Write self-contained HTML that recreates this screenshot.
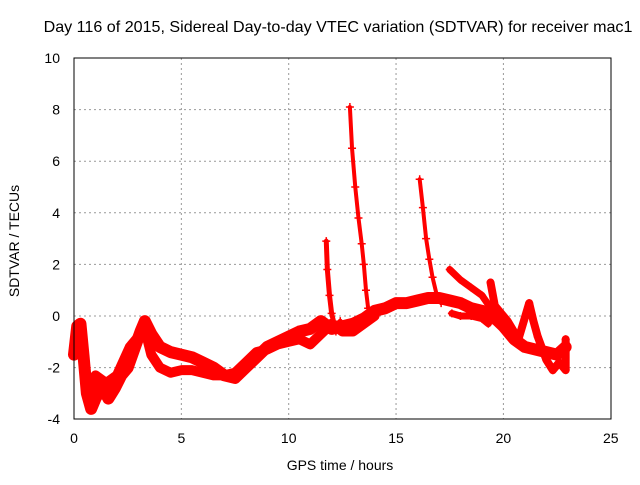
<!DOCTYPE html>
<html><head><meta charset="utf-8"><style>
body{margin:0;background:#fff}
svg text{font-family:"Liberation Sans",sans-serif;font-size:14px;fill:#000}
</style></head><body>
<svg width="640" height="480">
<text x="338" y="32" text-anchor="middle" style="font-size:16.1px">Day 116 of 2015, Sidereal Day-to-day VTEC variation (SDTVAR) for receiver mac1</text>
<g id="grid"></g><g id="ticks"></g><g id="data"></g>
<rect x="74" y="58" width="537" height="361" fill="none" stroke="#000" stroke-width="1"/>
<text x="340" y="470" text-anchor="middle">GPS time / hours</text>
<text transform="translate(19,241) rotate(-90)" text-anchor="middle">SDTVAR / TECUs</text>
</svg>
<script>
const xTicks=[0,5,10,15,20,25];
const yTicks=[-4,-2,0,2,4,6,8,10];
const mainBand=[[0,-1.5],[0.15,-0.4],[0.3,-0.3],[0.45,-1.6],[0.6,-3],[0.8,-3.6],[1.0,-3.2],[1.3,-2.7],[1.6,-3.2],[1.9,-2.8],[2.2,-2.3],[2.5,-2.0],[2.8,-1.3],[3.1,-0.6],[3.3,-0.2],[3.6,-0.7],[4.0,-1.2],[4.5,-1.4],[5.0,-1.5],[5.5,-1.6],[6.0,-1.8],[6.5,-2.0],[7.0,-2.3],[7.5,-2.4],[8.0,-2.0],[8.5,-1.6],[9.0,-1.2],[9.5,-1.0],[10.0,-0.8],[10.5,-0.6],[11.0,-0.5],[11.5,-0.2],[12.0,-0.5],[12.5,-0.4],[13,-0.3],[13.5,-0.1],[14,0.2],[14.5,0.3],[15,0.5],[15.5,0.5],[16,0.6],[16.5,0.7],[17,0.7],[17.5,0.6],[18,0.5],[18.5,0.3],[19,0.2],[19.5,0],[20,-0.4],[20.5,-0.9],[21,-1.2],[21.5,-1.3],[22,-1.4],[22.5,-1.5],[22.9,-1.2]];
const lowBand=[[0.7,-2.8],[1.0,-2.3],[1.5,-2.6],[2.0,-2.3],[2.6,-1.2],[3.0,-0.8],[3.3,-0.5],[3.6,-1.5],[4.0,-2.0],[4.5,-2.2],[5,-2.1],[5.5,-2.1],[6,-2.2],[6.5,-2.3],[7,-2.3],[7.5,-2.2],[8,-1.8],[8.5,-1.4],[9,-1.3],[9.5,-1.1],[10,-1.0],[10.5,-0.9],[11,-1.1],[11.5,-0.7],[12,-0.3],[12.5,-0.6],[13,-0.6],[13.5,-0.3],[14,0.0]];
const spike1=[[12.85,8.1],[12.95,6.5],[13.1,5],[13.25,3.8],[13.4,2.8],[13.5,2.0],[13.6,1.0],[13.7,0.3]];
const spike2=[[16.1,5.3],[16.25,4.2],[16.4,3.0],[16.55,2.2],[16.7,1.5],[16.9,0.8],[17.1,0.5]];
const lowerArc=[[17.6,0.1],[18,0.0],[18.5,0.0],[19,-0.1],[19.3,-0.3]];
const upperArc=[[17.5,1.8],[18,1.4],[18.5,1.1],[19,0.8],[19.5,0.2],[20,-0.4],[20.5,-0.8],[20.9,-1.2]];
const earlyBurst=[[11.75,2.9],[11.8,1.8],[11.9,0.8],[12.0,0.1],[12.2,-0.6],[12.4,-0.2]];
const lateTail=[[19.4,1.3],[19.6,0.4],[20.2,-0.2],[20.7,-0.9],[21.2,0.5],[21.4,-0.2],[21.6,-0.8],[22,-1.7],[22.3,-2.1],[22.6,-1.8],[22.9,-2.1],[22.9,-0.9]];
const series=[mainBand,lowBand,spike1,spike2,lowerArc,upperArc,earlyBurst,lateTail];
const widths=[12,10,4,4,7,7,5,8];
const NS='http://www.w3.org/2000/svg';
const X=v=>74+v*21.47, Y=v=>316-v*25.8;
function mk(t,a,p){const e=document.createElementNS(NS,t);for(const k in a)e.setAttribute(k,a[k]);p.appendChild(e);return e;}
const g=document.getElementById('grid'),tk=document.getElementById('ticks'),d=document.getElementById('data');
xTicks.forEach(v=>{
 if(v>0&&v<25){const l=mk('line',{x1:X(v),x2:X(v),y1:58,y2:419,stroke:'#999','stroke-dasharray':'2,3'},g);
 
 }
 const t=mk('text',{x:X(v),y:443,'text-anchor':'middle'},tk);t.textContent=v;
 
 
});
yTicks.forEach(v=>{
 if(v>-4&&v<10){const l=mk('line',{x1:74,x2:611,y1:Y(v),y2:Y(v),stroke:'#999','stroke-dasharray':'2,3'},g);
 
 }
 const t=mk('text',{x:60,y:Y(v)+5,'text-anchor':'end'},tk);t.textContent=v;
 
 
});
series.forEach((s,i)=>{
 const pl=mk('polyline',{points:s.map(p=>X(p[0])+','+Y(p[1])).join(' '),fill:'none',stroke:'#f00','stroke-width':widths[i],'stroke-linejoin':'round','stroke-linecap':'round'},d);
 
 
 s.forEach(p=>{
  const m=mk('path',{d:`M${X(p[0])-4},${Y(p[1])}h8M${X(p[0])},${Y(p[1])-4}v8`,stroke:'#f00','stroke-width':1.5},d);
  
  
 });
});
</script>
</body></html>
